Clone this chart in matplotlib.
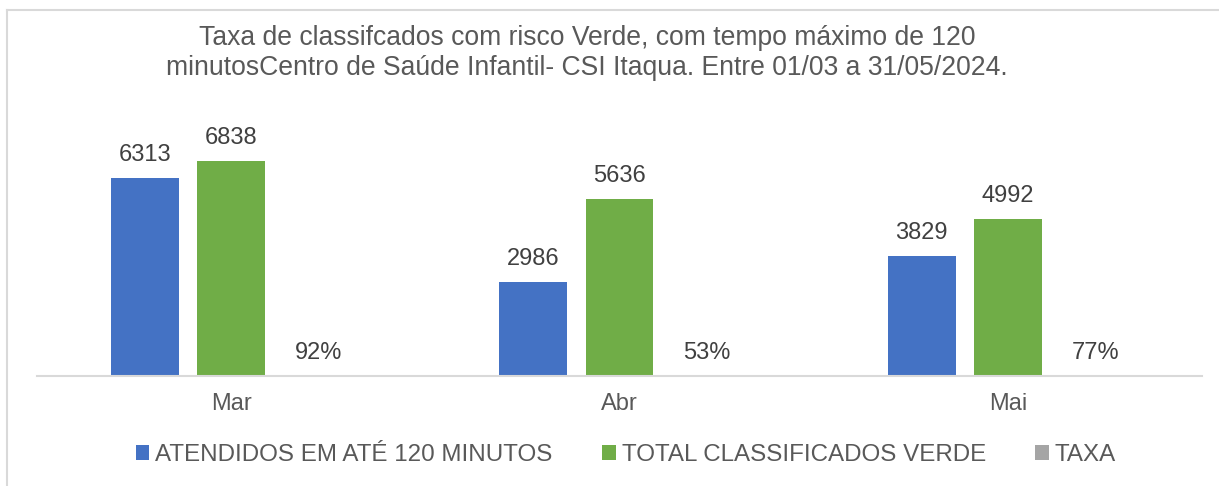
import matplotlib
matplotlib.use("Agg")
import matplotlib.pyplot as plt
from matplotlib.patches import Patch
from matplotlib.lines import Line2D
import numpy as np

plt.rcParams['font.family'] = ['Liberation Sans', 'DejaVu Sans']

categories = ["Mar", "Abr", "Mai"]
atendidos = [6313, 2986, 3829]
total_verde = [6838, 5636, 4992]
taxa = [0.92, 0.53, 0.77]
series_names = ["ATENDIDOS EM ATÉ 120 MINUTOS", "TOTAL CLASSIFICADOS VERDE", "TAXA"]
title = ("Taxa de classifcados com risco Verde, com tempo máximo de 120\n"
         "minutosCentro de Saúde Infantil- CSI Itaqua. Entre 01/03 a 31/05/2024.")

colors = ["#4472C4", "#70AD47", "#A5A5A5"]
W, H = 1219, 486
fig = plt.figure(figsize=(W / 100, H / 100), dpi=100)

ax_left, ax_right = 37 / W, 1202 / W
ax_bottom = 1 - 376 / H
ax_top = 1 - 100 / H
ax = fig.add_axes([ax_left, ax_bottom, ax_right - ax_left, ax_top - ax_bottom])

x = np.arange(len(categories))
width = 0.175
offsets = [-0.222, 0.0, 0.225]
px_per_unit = 215 / 6838
ymax = 276 / px_per_unit

label_color = "#404040"
fs = 17
for vals, off, col, name in zip([atendidos, total_verde, taxa], offsets, colors, series_names):
    bars = ax.bar(x + off, vals, width, color=col, label=name)
    for b, v in zip(bars, vals):
        txt = f"{v:.0%}" if isinstance(v, float) else f"{v}"
        ax.annotate(txt, (b.get_x() + b.get_width() / 2, b.get_height()),
                    xytext=(0, 12), textcoords="offset pixels",
                    ha="center", va="bottom", fontsize=fs, color=label_color)

ax.set_xlim(-0.5, 2.5)
ax.set_ylim(0, ymax)
ax.set_xticks(x)
ax.set_xticklabels(categories, fontsize=fs, color="#595959")
ax.tick_params(axis="x", length=0, pad=12)
ax.set_yticks([])
for s in ["top", "right", "left"]:
    ax.spines[s].set_visible(False)
ax.spines["bottom"].set_color("#D9D9D9")
ax.spines["bottom"].set_linewidth(1.5)

fig.text(587 / W, 1 - 53 / H, title, ha="center", va="center", fontsize=19.1,
         color="#595959", linespacing=1.2)

handles = [Patch(facecolor=c, edgecolor="none") for c in colors]
fig.legend(handles, series_names, loc="center", bbox_to_anchor=(626 / W, 1 - 455 / H),
           ncol=3, frameon=False, fontsize=17.4, handlelength=0.55, handleheight=0.55,
           handletextpad=0.25, columnspacing=2.05, labelcolor="#595959")

# chart frame (partially visible)
fig.add_artist(Line2D([7 / W, 7 / W], [0, 1 - 10 / H], transform=fig.transFigure,
                      color="#D9D9D9", lw=1.5))
fig.add_artist(Line2D([7 / W, 1], [1 - 10 / H, 1 - 10 / H], transform=fig.transFigure,
                      color="#D9D9D9", lw=1.5))

fig.savefig("out.png", dpi=100)
